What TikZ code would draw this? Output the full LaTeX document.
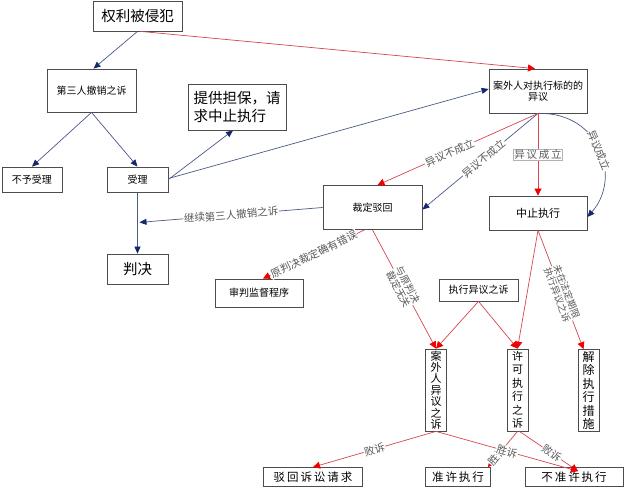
\documentclass[tikz,border=0pt]{standalone}
\usepackage{fontspec}
\setmainfont{Noto Sans CJK SC}
\usetikzlibrary{arrows.meta,calc}
\definecolor{rline}{RGB}{215,70,80}
\definecolor{rtip}{RGB}{240,0,0}
\definecolor{bline}{RGB}{75,90,135}
\definecolor{btip}{RGB}{20,40,110}
\begin{document}
\begin{tikzpicture}[x=1pt,y=-1pt,
  box/.style={draw=black!70, line width=0.8pt, fill=white, inner sep=1pt, align=center, font=\fontsize{10}{12}\selectfont},
  vbox/.style={box, minimum width=21pt, minimum height=82pt},
  redarr/.style={draw=rline, line width=0.7pt, -{Triangle[length=7pt,width=7pt,color=rtip]}},
  bluarr/.style={draw=bline, line width=0.7pt, -{Triangle[length=7pt,width=6pt,color=btip]}},
  lab/.style={fill=white, inner sep=0.6pt, text=black!65, font=\fontsize{10.5}{11}\selectfont, align=center}]
\useasboundingbox (0,0) rectangle (640,488);
\fill[white] (0,0) rectangle (640,488);

% nodes
\node[box, minimum width=89pt, minimum height=30pt, font=\fontsize{14.5}{16}\selectfont] (r) at (137.5,16) {权利被侵犯};
\node[box, minimum width=89pt, minimum height=43pt] (t) at (91.5,90.5) {第三人撤销之诉};
\node[box, minimum width=98pt, minimum height=46pt, align=left, font=\fontsize{14.5}{18}\selectfont] (g) at (237,107) {提供担保，请\\求中止执行};
\node[box, minimum width=60pt, minimum height=25pt] (nb) at (32,179.5) {不予受理};
\node[box, minimum width=61pt, minimum height=25pt] (sl) at (137.5,179.5) {受理};
\node[box, minimum width=61pt, minimum height=30pt, font=\fontsize{14.5}{16}\selectfont] (pj) at (137.5,269) {判决};
\node[box, minimum width=98pt, minimum height=44pt, font=\fontsize{10}{11}\selectfont] (yy) at (538,91) {案外人对执行标的的\\异议};
\node[box, minimum width=99pt, minimum height=44pt] (cb) at (372.5,207.5) {裁定驳回};
\node[box, minimum width=98pt, minimum height=34pt, font=\fontsize{11}{12}\selectfont] (zz) at (538,213) {中止执行};
\node[box, minimum width=88pt, minimum height=28pt] (sp) at (259,293) {审判监督程序};
\node[box, minimum width=79pt, minimum height=22pt] (zy) at (478.5,290) {执行异议之诉};
\node[vbox, font=\fontsize{11}{11.4}\selectfont] (aw) at (436,390) {案\\外\\人\\异\\议\\之\\诉};
\node[vbox, font=\fontsize{11}{13.5}\selectfont] (xk) at (517.5,390) {许\\可\\执\\行\\之\\诉};
\node[vbox, font=\fontsize{12}{13.4}\selectfont] (jc) at (588.5,390.5) {解\\除\\执\\行\\措\\施};
\node[box, minimum width=99pt, minimum height=19pt, font=\fontsize{11.5}{12}\selectfont] (bh) at (313,477) {驳\,回\,诉\,讼\,请\,求};
\node[box, minimum width=65pt, minimum height=19pt, font=\fontsize{11.5}{12}\selectfont] (zx) at (458,477) {准\,许\,执\,行};
\node[box, minimum width=98pt, minimum height=19pt, font=\fontsize{11.5}{12}\selectfont] (bz) at (574,477) {不\,准\,许\,执\,行};

\coordinate (m) at ($(sl.south)!0.49!(pj.north)$);

% blue connectors
\draw[bluarr] (r.south) -- ([xshift=2pt]t.north);
\draw[bluarr] (t.south) -- (nb.north);
\draw[bluarr] (t.south) -- (sl.north);
\draw[bluarr] (sl.east) -- ([xshift=-4pt]g.south);
\draw[bluarr] ([yshift=1pt]sl.east) -- ([yshift=2pt]yy.west);
\draw[bluarr] (sl.south) -- (pj.north);
\draw[bluarr] (cb.west) -- node[lab, sloped, pos=0.5] {继续第三人撤销之诉} ([xshift=2pt]m);
\draw[bluarr] (yy.south) -- node[lab, sloped, pos=0.47] {异议不成立} ([yshift=-2pt]cb.east);
\draw[bluarr] ([xshift=2pt]yy.south) .. controls (600,113) and (622,178) .. node[lab, sloped, pos=0.5] {异议成立} ([yshift=-4pt]zz.east);

% red connectors
\draw[redarr] ([xshift=3pt]r.south) -- ([xshift=-3pt]yy.north);
\draw[redarr] (yy.south) -- node[lab, sloped, pos=0.55] {异议不成立} ([xshift=5pt]cb.north);
\draw[redarr] (yy.south) -- node[lab, draw=black!30, pos=0.5] {异\,议\,成\,立} (zz.north);
\draw[redarr] ([xshift=-8pt]cb.south) -- node[lab, sloped, pos=0.5, font=\fontsize{10.5}{11}\selectfont] {原判决裁定确有错误} ([xshift=4pt]sp.north);
\draw[redarr] (cb.south) -- node[lab, sloped, pos=0.48, font=\fontsize{10}{10.5}\selectfont] {与原判决\\裁定无关} (aw.north);
\draw[redarr] (zy.south) -- (aw.north);
\draw[redarr] (zy.south) -- (xk.north);
\draw[redarr] (zz.south) -- (xk.north);
\draw[redarr] (zz.south) -- node[lab, sloped, pos=0.53, font=\fontsize{9.5}{10}\selectfont] {未在法定期限\\执行异议之诉} ([xshift=-5pt]jc.north);
\draw[redarr] (aw.south) -- node[lab, sloped, pos=0.5] {败诉} (bh.north);
\draw[redarr] (xk.south) -- node[lab, sloped, pos=0.68] {胜诉} ([xshift=-3pt]zx.north east);
\draw[redarr] (aw.south) -- node[lab, sloped, pos=0.5] {胜诉} ([xshift=4pt,yshift=-4pt]bz.north);
\draw[redarr] ([xshift=2pt]xk.south) -- node[lab, sloped, pos=0.55] {败诉} ([xshift=4pt,yshift=-4pt]bz.north);
\end{tikzpicture}
\end{document}
